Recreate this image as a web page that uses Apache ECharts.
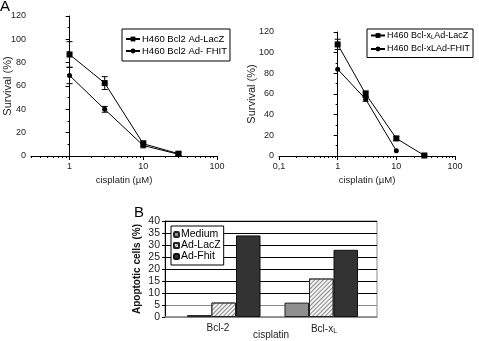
<!DOCTYPE html>
<html><head><meta charset="utf-8">
<script src="https://cdn.jsdelivr.net/npm/echarts@6/dist/echarts.min.js"></script>
<style>html,body{margin:0;padding:0;background:#fff}#c{width:479px;height:341px}</style>
</head><body><div id="c"></div>
<script>
// ---- Panel A (left): H460 Bcl2 ----
const concA1 = [1, 3, 10, 30];
const bcl2LacZ = [87, 62.5, 10.5, 2];
const bcl2LacZErr = [11, 5.5, 2.5, 1.5];
const bcl2Fhit = [69, 40, 9, 1.5];
const bcl2FhitErr = [7, 2.5, 2, 1];
// ---- Panel A (right): H460 Bcl-xL ----
const concA2Lacz = [1, 3, 10, 30];
const bclxLacZ = [108, 60, 17, 0.5];
const bclxLacZErr = [5, 3, 2, 0.5];
const concA2Fhit = [1, 3, 10];
const bclxFhit = [84, 55, 5];
const bclxFhitErr = [0, 2, 0];
// ---- Panel B ----
const categoriesB = ['Bcl-2', 'Bcl-xL'];
const medium = [0.8, 6];
const adLacZ = [6, 16];
const adFhit = [34, 28];
// tick labels
const xTicksA1 = [1, 10, 100];
const xTicksA2 = [0.1, 1, 10, 100];

const FONT = "'Liberation Sans', Arial, sans-serif";
const lg = Math.log10;
function minorTicks(lo, hi) {
  const out = [];
  for (let e = -2; e <= 2; e++) for (let k = 1; k <= 9; k++) {
    const v = k * Math.pow(10, e);
    if (v >= lo - 1e-9 && v <= hi + 1e-9) out.push(lg(v));
  }
  return out;
}
function pts(xs, ys) { return xs.map((x, i) => [lg(x), ys[i]]); }
function errs(xs, ys, es) { return xs.map((x, i) => [lg(x), ys[i] - es[i], ys[i] + es[i]]).filter((d, i) => es[i] > 0); }
function errRender(params, api) {
  const x = api.value(0), lo = api.value(1), hi = api.value(2);
  const p1 = api.coord([x, lo]), p2 = api.coord([x, hi]);
  const w = 3;
  const st = { stroke: '#000', lineWidth: 1 };
  return { type: 'group', children: [
    { type: 'line', shape: { x1: p1[0], y1: p1[1], x2: p2[0], y2: p2[1] }, style: st },
    { type: 'line', shape: { x1: p1[0] - w, y1: p1[1], x2: p1[0] + w, y2: p1[1] }, style: st },
    { type: 'line', shape: { x1: p2[0] - w, y1: p2[1], x2: p2[0] + w, y2: p2[1] }, style: st }
  ]};
}
function fmtConc(v) {
  const n = Math.pow(10, v);
  if (Math.abs(n - 0.1) < 1e-6) return '0,1';
  return String(Math.round(n));
}
function majorX(grid, minV, maxV, ticks) {
  return { gridIndex: grid, type: 'value', min: lg(minV), max: lg(maxV),
    axisLine: { lineStyle: { color: '#000', width: 1 } },
    axisTick: { show: true, length: 4, customValues: ticks.map(lg), lineStyle: { color: '#000' } },
    axisLabel: { customValues: ticks.map(lg), formatter: fmtConc, fontSize: 9, color: '#222', fontFamily: FONT, margin: 6 },
    splitLine: { show: false },
    name: 'cisplatin (\u00B5M)', nameLocation: 'middle', nameGap: 19, nameMoveOverlap: false,
    nameTextStyle: { fontSize: 9.5, color: '#222', fontFamily: FONT } };
}
function minorX(grid, minV, maxV) {
  return { gridIndex: grid, type: 'value', min: lg(minV), max: lg(maxV), position: 'bottom',
    axisLine: { show: false },
    axisTick: { show: true, length: 2, customValues: minorTicks(minV, maxV), lineStyle: { color: '#000' } },
    axisLabel: { show: false }, splitLine: { show: false } };
}
function yA(grid, gap) {
  return { gridIndex: grid, type: 'value', min: 0, max: 120, interval: 20,
    axisLine: { show: true, lineStyle: { color: '#000' } },
    axisTick: { show: true, length: 4, lineStyle: { color: '#000' } },
    minorTick: { show: true, splitNumber: 2, length: 2, lineStyle: { color: '#000' } },
    axisLabel: { fontSize: 9, color: '#222', fontFamily: FONT, margin: 5 },
    splitLine: { show: false },
    name: 'Survival (%)', nameLocation: 'middle', nameGap: gap, nameMoveOverlap: false,
    nameTextStyle: { fontSize: 11, color: '#222', fontFamily: FONT } };
}
const lineStyle = { color: '#000', width: 1 };
const gridLineColors = ['#8a8a8a', '#8a8a8a', '#000', '#000', '#000', '#000', '#000', '#000', '#000'];
const chart = echarts.init(document.getElementById('c'), null, { renderer: 'canvas' });
const option = {
  animation: false,
  textStyle: { fontFamily: FONT },
  grid: [
    { left: 31, top: 16, width: 186, height: 140, outerBoundsMode: 'none', containLabel: false },
    { left: 279, top: 32, width: 176, height: 124, outerBoundsMode: 'none', containLabel: false },
    { left: 165, top: 221, width: 212, height: 96, show: true, borderColor: '#8a8a8a', borderWidth: 1, outerBoundsMode: 'none', containLabel: false },
    { left: 175, top: 221, width: 195, height: 96, outerBoundsMode: 'none', containLabel: false }
  ],
  graphic: [
    { type: 'text', left: 0, top: -1, style: { text: 'A', fontSize: 15, fill: '#000', fontFamily: FONT } },
    { type: 'text', left: 134, top: 205, style: { text: 'B', fontSize: 15, fill: '#000', fontFamily: FONT } }
  ],
  legend: [
    { data: ['H460 Bcl2 Ad-LacZ', 'H460 Bcl2 Ad- FHIT'], orient: 'vertical', left: 122, top: 29,
      itemWidth: 14, itemHeight: 6, itemGap: 2, padding: [5, 3, 5, 3], borderColor: '#000', borderWidth: 1,
      backgroundColor: '#fff',
      textStyle: { fontSize: 9.5, color: '#000', fontFamily: FONT, padding: [0, 0, 0, -3] } },
    { data: ['H460 Bcl-xL Ad-LacZ', 'H460 Bcl-xLAd-FHIT'], orient: 'vertical', left: 367, top: 29,
      itemWidth: 14, itemHeight: 6, itemGap: 4, padding: [2, 3, 4, 3], borderColor: '#000', borderWidth: 1,
      backgroundColor: '#fff',
      formatter: n => n === 'H460 Bcl-xL Ad-LacZ' ? 'H460 Bcl-x{sub|L}Ad-LacZ' : n,
      textStyle: { fontSize: 9, color: '#000', fontFamily: FONT, padding: [0, 0, 0, -3],
        rich: { sub: { fontSize: 6, verticalAlign: 'bottom', padding: [4, 0, 0, 0] } } } },
    { data: ['Medium', 'Ad-LacZ', 'Ad-Fhit'], orient: 'vertical', left: 171, top: 226,
      itemWidth: 5, itemHeight: 5, itemGap: 0, padding: [3, 3, 3, 2], borderColor: '#000', borderWidth: 1,
      backgroundColor: '#fff',
      textStyle: { fontSize: 10.5, lineHeight: 8.5, color: '#000', fontFamily: FONT, padding: [0, 0, 0, -3] } }
  ],
  xAxis: [
    majorX(0, 0.3, 100, xTicksA1), minorX(0, 0.3, 100),
    majorX(1, 0.1, 100, xTicksA2), minorX(1, 0.1, 100),
    { gridIndex: 2, type: 'category', data: categoriesB,
      axisLine: { lineStyle: { color: '#8a8a8a', width: 1.5 } }, axisTick: { show: false },
      axisLabel: { fontSize: 10, color: '#222', fontFamily: FONT, margin: 6,
        formatter: v => v === 'Bcl-xL' ? 'Bcl-x{sub|L}' : v,
        rich: { sub: { fontSize: 7, verticalAlign: 'bottom', padding: [5, 0, 0, 0] } } },
      name: 'cisplatin', nameLocation: 'middle', nameGap: 13, nameMoveOverlap: false,
      nameTextStyle: { fontSize: 10, color: '#222', fontFamily: FONT } },
    { gridIndex: 3, type: 'category', data: categoriesB, show: false }
  ],
  yAxis: [
    yA(0, 17.5), yA(1, 21.5),
    { gridIndex: 2, type: 'value', min: 0, max: 40, interval: 5,
      axisLine: { show: true, lineStyle: { color: '#000' } },
      axisTick: { show: true, length: 3, lineStyle: { color: '#000' } },
      axisLabel: { fontSize: 10.5, color: '#222', fontFamily: FONT, margin: 5 },
      splitLine: { show: true, lineStyle: { color: gridLineColors, width: 1 } },
      name: 'Apoptotic cells (%)', nameLocation: 'middle', nameGap: 22.5, nameMoveOverlap: false,
      nameTextStyle: { fontSize: 10, fontWeight: 'bold', color: '#111', fontFamily: FONT } },
    { gridIndex: 3, type: 'value', min: 0, max: 40, interval: 5, show: false, splitLine: { show: false } }
  ],
  series: [
    { name: 'H460 Bcl2 Ad-LacZ', type: 'line', xAxisIndex: 0, yAxisIndex: 0, data: pts(concA1, bcl2LacZ),
      symbol: 'rect', symbolSize: 6, itemStyle: { color: '#000' }, lineStyle },
    { name: 'H460 Bcl2 Ad- FHIT', type: 'line', xAxisIndex: 0, yAxisIndex: 0, data: pts(concA1, bcl2Fhit),
      symbol: 'circle', symbolSize: 5, itemStyle: { color: '#000' }, lineStyle },
    { type: 'custom', xAxisIndex: 0, yAxisIndex: 0, renderItem: errRender, data: errs(concA1, bcl2LacZ, bcl2LacZErr), z: 3 },
    { type: 'custom', xAxisIndex: 0, yAxisIndex: 0, renderItem: errRender, data: errs(concA1, bcl2Fhit, bcl2FhitErr), z: 3 },
    { name: 'H460 Bcl-xL Ad-LacZ', type: 'line', xAxisIndex: 2, yAxisIndex: 1, data: pts(concA2Lacz, bclxLacZ),
      symbol: 'rect', symbolSize: 6, itemStyle: { color: '#000' }, lineStyle },
    { name: 'H460 Bcl-xLAd-FHIT', type: 'line', xAxisIndex: 2, yAxisIndex: 1, data: pts(concA2Fhit, bclxFhit),
      symbol: 'circle', symbolSize: 5, itemStyle: { color: '#000' }, lineStyle },
    { type: 'custom', xAxisIndex: 2, yAxisIndex: 1, renderItem: errRender, data: errs(concA2Lacz, bclxLacZ, bclxLacZErr), z: 3 },
    { type: 'custom', xAxisIndex: 2, yAxisIndex: 1, renderItem: errRender, data: errs(concA2Fhit, bclxFhit, bclxFhitErr), z: 3 },
    { name: 'Medium', type: 'bar', xAxisIndex: 5, yAxisIndex: 3, data: medium, barGap: '0%', barCategoryGap: '24.6%',
      itemStyle: { color: '#8f8f8f', borderColor: '#222', borderWidth: 1 } },
    { name: 'Ad-LacZ', type: 'bar', xAxisIndex: 5, yAxisIndex: 3, data: adLacZ, barGap: '0%', barCategoryGap: '24.6%',
      itemStyle: { color: '#f4f4f4', borderColor: '#222', borderWidth: 1,
        decal: { symbol: 'rect', symbolSize: 1, dashArrayX: [1, 0], dashArrayY: [1, 1.5], rotation: -Math.PI / 4, color: '#8a8a8a', backgroundColor: '#f4f4f4' } } },
    { name: 'Ad-Fhit', type: 'bar', xAxisIndex: 5, yAxisIndex: 3, data: adFhit, barGap: '0%', barCategoryGap: '24.6%',
      itemStyle: { color: '#333333', borderColor: '#111', borderWidth: 1 } }
  ]
};
chart.setOption(option);
</script></body></html>
